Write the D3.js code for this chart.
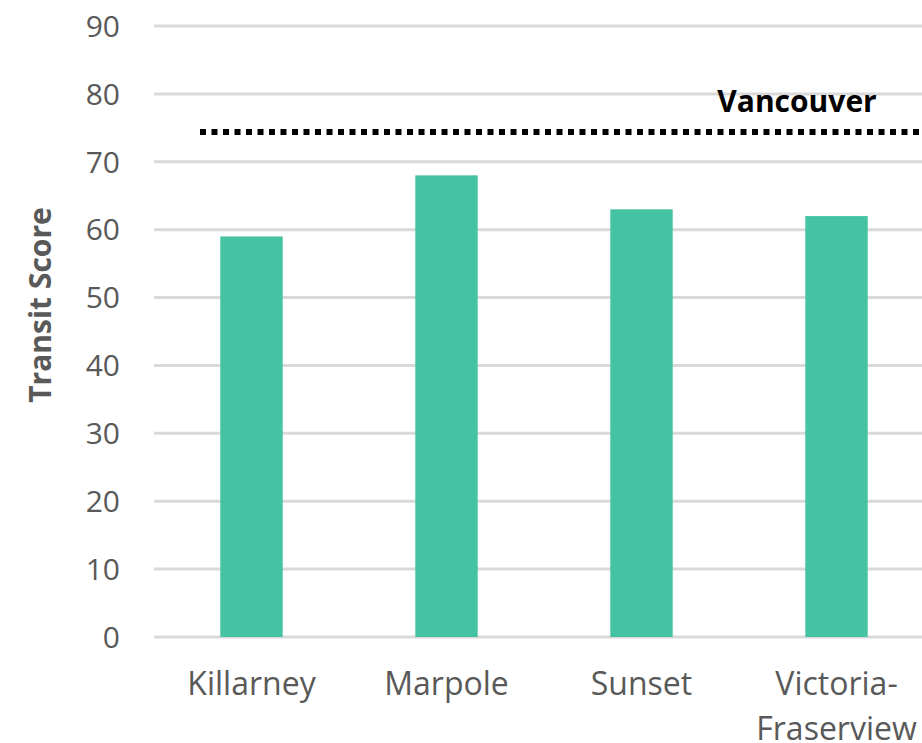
<html>
<head>
  <meta charset="utf-8">
  <script src="https://d3js.org/d3.v7.min.js"></script>
  <style>
    body { margin: 0; background: #fff; }
    svg text { font-family: "Open Sans", sans-serif; }
  </style>
</head>
<body>
<div id="chart"></div>
<script>
  // data
  var neighbourhoods = ["Killarney", "Marpole", "Sunset", "Victoria-\nFraserview"];
  var transitScores = [59, 68, 63, 62];
  var cityName = "Vancouver";
  var cityScore = 74.4;
  var yTicks = [0, 10, 20, 30, 40, 50, 60, 70, 80, 90];

  var width = 922, height = 743;

  var svg = d3.select("#chart").append("svg")
      .attr("width", width)
      .attr("height", height);

  var y = d3.scaleLinear().domain([0, 90]).range([637, 26]);
  var x = d3.scaleBand()
      .domain(neighbourhoods)
      .range([154, 934])
      .paddingInner(0.68)
      .paddingOuter(0.34);

  // gridlines
  svg.selectAll(".grid")
    .data(yTicks)
    .enter().append("line")
      .attr("x1", 154).attr("x2", width)
      .attr("y1", d => y(d)).attr("y2", d => y(d))
      .attr("stroke", "#d9d9d9")
      .attr("stroke-width", 3);

  // tick labels
  svg.selectAll(".ytick")
    .data(yTicks)
    .enter().append("text")
      .attr("x", 120)
      .attr("y", d => y(d))
      .attr("dy", "0.36em")
      .attr("text-anchor", "end")
      .attr("fill", "#595959")
      .style("font-size", "30px")
      .text(d => d);

  // bars
  svg.selectAll(".bar")
    .data(transitScores)
    .enter().append("rect")
      .attr("x", (d, i) => x(neighbourhoods[i]))
      .attr("width", x.bandwidth())
      .attr("y", d => y(d))
      .attr("height", d => y(0) - y(d))
      .attr("fill", "#45c2a2");

  // Vancouver reference line
  svg.append("line")
      .attr("x1", 200).attr("x2", width)
      .attr("y1", y(cityScore)).attr("y2", y(cityScore))
      .attr("stroke", "#000")
      .attr("stroke-width", 6)
      .attr("stroke-dasharray", "6,5.5");

  svg.append("text")
      .attr("x", 797)
      .attr("y", 112)
      .attr("text-anchor", "middle")
      .attr("font-weight", "bold")
      .attr("fill", "#000")
      .style("font-size", "30px")
      .text(cityName);

  // category labels
  var cat = svg.selectAll(".cat")
    .data(neighbourhoods)
    .enter().append("text")
      .attr("text-anchor", "middle")
      .attr("fill", "#595959")
      .style("font-size", "32px")
      .attr("transform", d => "translate(" + (x(d) + x.bandwidth() / 2) + ",695)");

  cat.selectAll("tspan")
    .data(d => d.split("\n"))
    .enter().append("tspan")
      .attr("x", 0)
      .attr("y", (d, i) => i * 45)
      .text(d => d);

  // y axis title
  svg.append("text")
      .attr("transform", "translate(51,305) rotate(-90)")
      .attr("text-anchor", "middle")
      .attr("font-weight", "bold")
      .attr("fill", "#595959")
      .style("font-size", "30px")
      .text("Transit Score");
</script>
</body>
</html>
